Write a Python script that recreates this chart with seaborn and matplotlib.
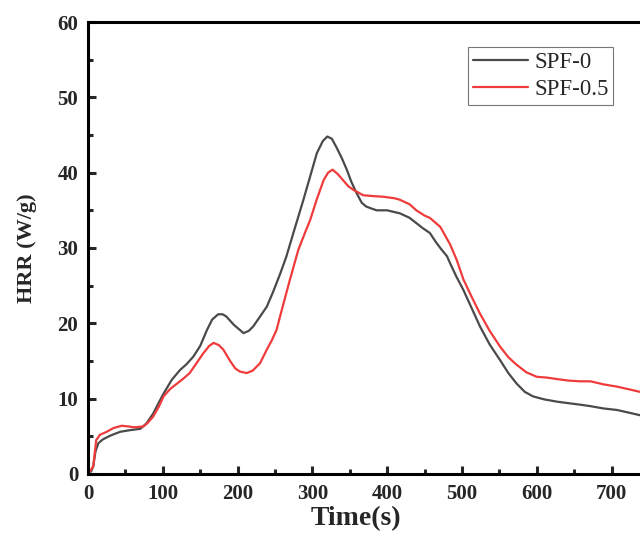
import matplotlib
matplotlib.use("Agg")
import matplotlib.pyplot as plt
from matplotlib.ticker import MultipleLocator
import numpy as np
import pandas as pd
import seaborn as sns

# SPF-0 (grey curve)
t_spf0 = [0, 4, 7, 10, 14, 20, 30, 43, 55, 70, 78, 87, 100, 112, 123, 132, 141, 150,
          159, 166, 174, 180, 185, 195, 208, 215, 221, 230, 239, 248, 257, 265, 274,
          288, 306, 314, 320, 326, 332, 339, 346, 352, 359, 366, 372, 380, 386, 400,
          417, 430, 439, 448, 457, 465, 471, 480, 484, 492, 502, 513, 524, 537, 551,
          562, 573, 584, 595, 610, 627, 642, 658, 672, 689, 707, 725, 738]
hrr_spf0 = [0.5, 0.3, 1.0, 3.0, 4.1, 4.6, 5.1, 5.6, 5.8, 6.0, 6.7, 8.0, 10.5, 12.5,
            13.8, 14.6, 15.6, 17.0, 19.1, 20.5, 21.2, 21.2, 20.9, 19.8, 18.7, 19.0,
            19.6, 20.9, 22.2, 24.3, 26.6, 28.8, 31.8, 36.4, 42.6, 44.2, 44.8, 44.5,
            43.4, 42.0, 40.4, 38.8, 37.3, 36.0, 35.5, 35.2, 35.0, 35.0, 34.6, 34.0,
            33.3, 32.6, 32.0, 30.8, 30.0, 28.9, 28.0, 26.3, 24.4, 22.0, 19.6, 17.2,
            15.1, 13.4, 12.0, 10.9, 10.3, 9.9, 9.6, 9.4, 9.2, 9.0, 8.7, 8.5, 8.1, 7.8]

# SPF-0.5 (red curve)
t_spf05 = [0, 3, 7, 11, 16, 25, 34, 45, 55, 61, 74, 80, 87, 95, 101, 110, 119, 128,
           136, 145, 154, 162, 168, 175, 181, 190, 197, 203, 212, 220, 230, 239, 246,
           252, 257, 264, 270, 281, 290, 297, 306, 315, 321, 327, 334, 341, 348, 355,
           368, 380, 395, 410, 417, 430, 439, 450, 457, 471, 484, 493, 502, 513, 524,
           537, 551, 562, 573, 586, 600, 613, 627, 642, 658, 672, 689, 707, 725, 738]
hrr_spf05 = [0.8, 0.4, 1.0, 4.5, 5.2, 5.6, 6.1, 6.4, 6.3, 6.2, 6.3, 6.8, 7.6, 9.0,
             10.3, 11.3, 12.0, 12.7, 13.4, 14.7, 16.0, 17.0, 17.4, 17.1, 16.5, 15.0,
             14.0, 13.6, 13.4, 13.7, 14.7, 16.5, 17.8, 19.1, 21.0, 23.6, 25.8, 29.7,
             32.0, 33.7, 36.5, 39.0, 40.0, 40.4, 39.8, 39.0, 38.2, 37.7, 37.0, 36.9,
             36.8, 36.6, 36.4, 35.8, 35.0, 34.3, 34.0, 32.8, 30.5, 28.4, 25.8, 23.5,
             21.3, 19.0, 16.9, 15.5, 14.5, 13.5, 12.9, 12.8, 12.6, 12.4, 12.3, 12.3,
             11.9, 11.6, 11.2, 10.9]

labels = ["SPF-0", "SPF-0.5"]
colors = ["#4a4a4a", "#ef3b3b"]

sns.set_style("ticks")
plt.rcParams["font.family"] = ["Liberation Serif", "DejaVu Serif"]

fig = plt.figure(figsize=(6.4, 5.34), dpi=100)
ax = fig.add_axes([0.1375, 0.1124, 0.8625, 0.8464])

for t, h, lab, c in zip([t_spf0, t_spf05], [hrr_spf0, hrr_spf05], labels, colors):
    sns.lineplot(x=t, y=h, ax=ax, color=c, linewidth=1.6, label=lab)

ax.set_xlim(0, 738)
ax.set_ylim(0, 60)
ax.xaxis.set_major_locator(MultipleLocator(100))
ax.xaxis.set_minor_locator(MultipleLocator(50))
ax.yaxis.set_major_locator(MultipleLocator(10))
ax.yaxis.set_minor_locator(MultipleLocator(5))
ax.tick_params(which="both", direction="in", width=2.2, top=False, right=False)
ax.tick_params(which="major", length=6, labelsize=15, pad=7)
ax.tick_params(which="minor", length=3.5)
for lbl in ax.get_xticklabels() + ax.get_yticklabels():
    lbl.set_fontweight("bold")

for side in ["left", "bottom", "top"]:
    ax.spines[side].set_linewidth(2.2)
    ax.spines[side].set_color("black")
ax.spines["right"].set_visible(False)

ax.set_xlabel("Time(s)", fontsize=20, fontweight="bold")
ax.xaxis.set_label_coords(0.485, -0.071)
ax.xaxis.label.set_va("top")
ax.set_ylabel("HRR (W/g)", fontsize=16, fontweight="bold", labelpad=15)

leg = ax.legend(loc="upper right", bbox_to_anchor=(0.96, 0.955), fontsize=16.5,
                frameon=True, fancybox=False, handlelength=2.4, borderpad=0.2,
                labelspacing=0.3, handletextpad=0.3, borderaxespad=0.2)
leg.get_frame().set_edgecolor("#555555")
leg.get_frame().set_linewidth(0.8)

fig.savefig("out.png", dpi=100)
